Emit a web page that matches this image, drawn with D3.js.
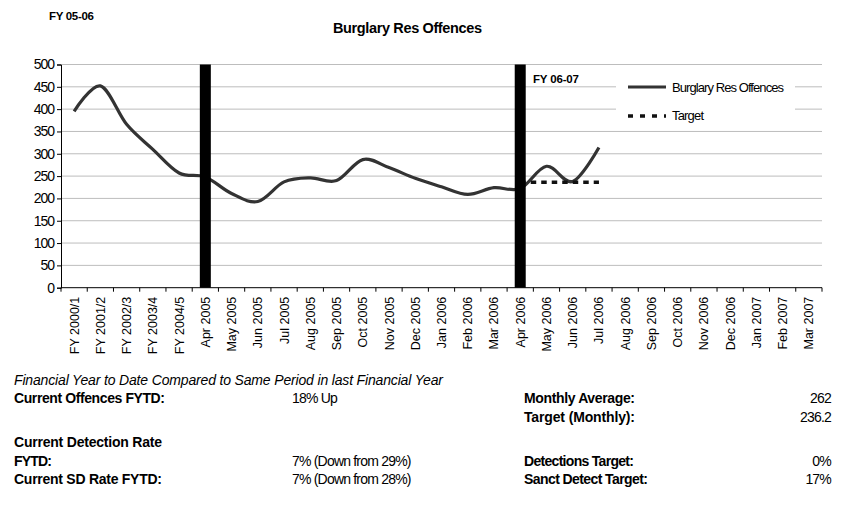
<!DOCTYPE html>
<html>
<head>
<meta charset="utf-8">
<script src="https://cdn.jsdelivr.net/npm/d3@7"></script>
<style>
  html, body { margin: 0; padding: 0; background: #fff; }
  svg { display: block; font-family: "Liberation Sans", Arial, sans-serif; }
</style>
</head>
<body>
<svg id="chart" width="844" height="509"></svg>
<script>
// ---- data ----
const categories = ["FY 2000/1","FY 2001/2","FY 2002/3","FY 2003/4","FY 2004/5",
  "Apr 2005","May 2005","Jun 2005","Jul 2005","Aug 2005","Sep 2005","Oct 2005","Nov 2005","Dec 2005",
  "Jan 2006","Feb 2006","Mar 2006","Apr 2006","May 2006","Jun 2006","Jul 2006","Aug 2006","Sep 2006",
  "Oct 2006","Nov 2006","Dec 2006","Jan 2007","Feb 2007","Mar 2007"];
const offences = [395,452,366,310,257,248,211,193,237,246,240,287,269,245,226,209,224,222,272,238,314];
const targetCategories = ["Apr 2006","May 2006","Jun 2006","Jul 2006"];
const targetValues = [236.2,236.2,236.2,236.2];
const yearMarkers = ["Apr 2005","Apr 2006"];
const yearMarkerValues = [500,500];
const yTicks = [0,50,100,150,200,250,300,350,400,450,500];
const title = "Burglary Res Offences";
const seriesNames = ["Burglary Res Offences","Target"];

const svg = d3.select("#chart");
const x = d3.scaleBand().domain(categories).range([61, 822]).padding(0);
const y = d3.scaleLinear().domain([0, 500]).range([287.7, 64.5]);
const cx = c => x(c) + x.bandwidth() / 2;

// gridlines
svg.append("g").selectAll("line").data(yTicks.filter(d => d > 0)).join("line")
  .attr("x1", 61).attr("x2", 822)
  .attr("y1", d => y(d)).attr("y2", d => y(d))
  .attr("stroke", "#bdbdbd").attr("stroke-width", 1);

// y axis
const yAxis = d3.axisLeft(y).tickValues(yTicks).tickSize(4).tickPadding(3);
const gy = svg.append("g").attr("transform", "translate(61,0)").call(yAxis);
gy.select(".domain").attr("stroke", "#000");
gy.selectAll(".tick line").attr("stroke", "#000");
gy.selectAll(".tick text").attr("font-size", 14).attr("letter-spacing", "-1px")
  .attr("fill", "#000").attr("font-family", "Liberation Sans, Arial, sans-serif");

// x axis
const gx = svg.append("g").attr("transform", `translate(0,${y(0)})`);
gx.append("line").attr("x1", 61).attr("x2", 822).attr("y1", 0).attr("y2", 0).attr("stroke", "#000");
const bounds = categories.map(c => x(c)).concat([822]);
gx.selectAll("line.tk").data(bounds).join("line").attr("class", "tk")
  .attr("x1", d => d).attr("x2", d => d).attr("y1", 0).attr("y2", 4).attr("stroke", "#000");
gx.selectAll("text").data(categories).join("text")
  .attr("transform", d => `translate(${cx(d) + 4.5},${9}) rotate(-90)`)
  .attr("text-anchor", "end")
  .attr("font-size", 12.5)
  .attr("fill", "#000")
  .text(d => d);

// offences line
const line = d3.line()
  .x((d, i) => cx(categories[i]))
  .y(d => y(d))
  .curve(d3.curveCardinal.tension(0));
svg.append("path").datum(offences)
  .attr("d", line).attr("fill", "none")
  .attr("stroke", "#333").attr("stroke-width", 3.2);

// target line
const tline = d3.line()
  .x((d, i) => cx(targetCategories[i]))
  .y(d => y(d));
svg.append("path").datum(targetValues)
  .attr("d", tline).attr("fill", "none")
  .attr("stroke", "#111").attr("stroke-width", 3.5)
  .attr("stroke-dasharray", "5.5,5");

// year marker bars
svg.append("g").selectAll("rect").data(yearMarkers).join("rect")
  .attr("x", d => cx(d) - 5.5).attr("width", 11)
  .attr("y", (d, i) => y(yearMarkerValues[i]))
  .attr("height", (d, i) => y(0) - y(yearMarkerValues[i]))
  .attr("fill", "#000");

// legend
const lg = svg.append("g");
lg.append("rect").attr("x", 616).attr("y", 69).attr("width", 179).attr("height", 60).attr("fill", "#fff");
lg.append("line").attr("x1", 628).attr("x2", 666).attr("y1", 87).attr("y2", 87)
  .attr("stroke", "#333").attr("stroke-width", 3.2);
lg.append("line").attr("x1", 628).attr("x2", 666).attr("y1", 116).attr("y2", 116)
  .attr("stroke", "#111").attr("stroke-width", 3.5).attr("stroke-dasharray", "5,7");
function txt(s, xx, yy, opts) {
  const t = svg.append("text").attr("x", xx).attr("y", yy).text(s)
    .attr("font-size", opts.size || 13).attr("fill", "#000");
  if (opts.bold) t.attr("font-weight", "bold");
  if (opts.italic) t.attr("font-style", "italic");
  if (opts.anchor) t.attr("text-anchor", opts.anchor);
  if (opts.ls) t.attr("letter-spacing", opts.ls + "px");
  if (opts.len) t.attr("textLength", opts.len).attr("lengthAdjust", "spacing");
  return t;
}
txt(seriesNames[0], 672, 92, {size: 13, len: 112});
txt(seriesNames[1], 672, 120, {size: 13, len: 32});

// titles
txt(title, 333, 33, {size: 14.5, bold: true, len: 149});
txt("FY 05-06", 49, 19.5, {size: 11.5, bold: true, len: 45});
txt("FY 06-07", 533, 83, {size: 11.5, bold: true, len: 46});

// bottom text
txt("Financial Year to Date Compared to Same Period in last Financial Year", 14, 385, {size: 14, italic: true, len: 429});
txt("Current Offences FYTD:", 14, 403, {size: 14, bold: true, len: 151});
txt("18% Up", 292, 403, {size: 14, ls: -0.8});
txt("Monthly Average:", 524, 403, {size: 14, bold: true, len: 111});
txt("262", 831, 403, {size: 14, anchor: "end", ls: -0.8});
txt("Target (Monthly):", 524, 422, {size: 14, bold: true, len: 111});
txt("236.2", 831, 422, {size: 14, anchor: "end", ls: -0.8});
txt("Current Detection Rate", 14, 447, {size: 14, bold: true, len: 148});
txt("FYTD:", 14, 466, {size: 14, bold: true, len: 38});
txt("7% (Down from 29%)", 292, 466, {size: 14, ls: -0.8});
txt("Detections Target:", 524, 466, {size: 14, bold: true, len: 110});
txt("0%", 831, 466, {size: 14, anchor: "end", ls: -0.8});
txt("Current SD Rate FYTD:", 14, 484, {size: 14, bold: true, len: 148});
txt("7% (Down from 28%)", 292, 484, {size: 14, ls: -0.8});
txt("Sanct Detect Target:", 524, 484, {size: 14, bold: true, len: 124});
txt("17%", 831, 484, {size: 14, anchor: "end", ls: -0.8});
</script>
</body>
</html>
